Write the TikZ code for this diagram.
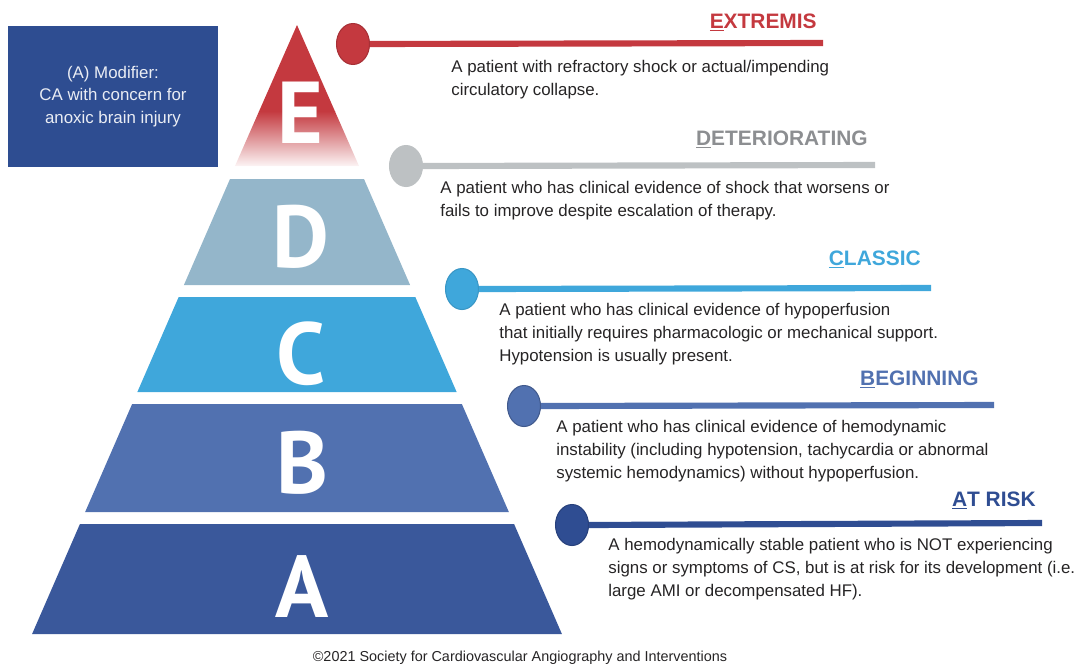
\documentclass[tikz,border=0pt]{standalone}
\usepackage{fontspec}
\setmainfont{Liberation Sans}
\newfontfamily\tierfont{PT Sans}
\usetikzlibrary{shapes.geometric,positioning}

\definecolor{extremisred}{HTML}{C4393F}
\definecolor{deterbar}{HTML}{BDC1C3}
\definecolor{detertext}{HTML}{8C8E91}
\definecolor{tierD}{HTML}{94B6CA}
\definecolor{tierC}{HTML}{3FA7DB}
\definecolor{tierB}{HTML}{5171B0}
\definecolor{tierA}{HTML}{3A589B}
\definecolor{atriskblue}{HTML}{2F4D92}
\definecolor{modblue}{HTML}{2E4D91}
\definecolor{bodygray}{HTML}{262425}

\begin{document}
\begin{tikzpicture}[
        x=0.02cm, y=-0.02cm,
        every node/.style={font=\fontsize{9.6}{13.2}\selectfont, text=bodygray},
        tier/.style={font=\tierfont\bfseries\fontsize{50}{50}\selectfont, text=white, anchor=base, inner sep=0pt},
        dot/.style={ellipse, draw, line width=0.6pt, minimum width=0.66cm, minimum height=0.82cm, inner sep=0pt},
        bar/.style={line width=3.5pt},
        tag/.style={font=\bfseries\fontsize{11.9}{12}\selectfont, anchor=base east, inner sep=0pt},
        desc/.style={align=left, anchor=north west, inner sep=0pt},
    ]
        \useasboundingbox (0,0) rectangle (1084,663);

        % --- Modifier box ---
        \node[fill=modblue, minimum width=4.2cm, minimum height=2.82cm, align=center,
              text=white!90!modblue, font=\fontsize{9.6}{12.8}\selectfont] (modifier) at (113,96.5)
              {(A) Modifier:\\CA with concern for\\anoxic brain injury};

        % --- Top of the pyramid (E), fading out towards its base ---
        \begin{scope}
            \clip (297,25) -- (359,166) -- (235,166) -- cycle;
            \fill[extremisred] (230,20) rectangle (365,112);
            \shade[top color=extremisred, bottom color=extremisred!4] (230,111) rectangle (365,167);
        \end{scope}

        % --- Lower tiers, cut from the same triangle ---
        \foreach \yt/\yb/\col in {179/285/tierD, 297/392/tierC, 404/512/tierB, 524/634/tierA}
            \fill[\col] ({297-0.435*(\yt-25)},\yt) -- ({297+0.435*(\yt-25)},\yt)
                -- ({297+0.435*(\yb-25)},\yb) -- ({297-0.435*(\yb-25)},\yb) -- cycle;

        % --- Tier letters ---
        \node[tier] (ltrE) at (300,143) {E};
        \node[tier] (ltrD) at (301,267) {D};
        \node[tier] (ltrC) at (301,384) {C};
        \node[tier] (ltrB) at (302,493) {B};
        \node[tier] (ltrA) at (302,617) {A};

        % --- Ends of the bars ---
        \coordinate (endE) at (823,43);
        \coordinate (endD) at (875,165);
        \coordinate (endC) at (931,288);
        \coordinate (endB) at (994,405);
        \coordinate (endA) at (1042,523);

        % --- Dots ---
        \node[dot, fill=extremisred, draw=extremisred!85!black] (dotE) at (353,44) {};
        \node[dot, fill=deterbar, draw=deterbar] (dotD) at (406,166) {};
        \node[dot, fill=tierC, draw=tierC!90!black] (dotC) at (462,289) {};
        \node[dot, fill=tierB, draw=tierB!80!black] (dotB) at (524,406) {};
        \node[dot, fill=atriskblue, draw=atriskblue!85!black] (dotA) at (572,525) {};

        % --- Bars ---
        \draw[bar, extremisred] (dotE.east) -- (endE);
        \draw[bar, deterbar] (dotD.east) -- (endD);
        \draw[bar, tierC] (dotC.east) -- (endC);
        \draw[bar, tierB] (dotB.east) -- (endB);
        \draw[bar, atriskblue] (dotA.east) -- (endA);

        % --- Stage names ---
        \node[tag, text=extremisred] (tagE) at (817,28) {\underline{E}XTREMIS};
        \node[tag, text=detertext] (tagD) at (868,145) {\underline{D}ETERIORATING};
        \node[tag, text=tierC] (tagC) at (921,265) {\underline{C}LASSIC};
        \node[tag, text=tierB] (tagB) at (979,385) {\underline{B}EGINNING};
        \node[tag, text=atriskblue] (tagA) at (1036,506) {\underline{A}T RISK};

        % --- Descriptions ---
        \node[desc] (descE) at (451,59.5)
            {A patient with refractory shock or actual/impending\\circulatory collapse.};
        \node[desc] (descD) at (440,180.5)
            {A patient who has clinical evidence of shock that worsens or\\fails to improve despite escalation of therapy.};
        \node[desc] (descC) at (499,302.5)
            {A patient who has clinical evidence of hypoperfusion\\that initially requires pharmacologic or mechanical support.\\Hypotension is usually present.};
        \node[desc] (descB) at (556,419.5)
            {A patient who has clinical evidence of hemodynamic\\instability (including hypotension, tachycardia or abnormal\\systemic hemodynamics) without hypoperfusion.};
        \node[desc] (descA) at (608,537.5)
            {A hemodynamically stable patient who is NOT experiencing\\signs or symptoms of CS, but is at risk for its development (i.e.\\large AMI or decompensated HF).};

        % --- Credit line ---
        \node[font=\fontsize{8.2}{9}\selectfont, anchor=base] (credit) at (520,661)
            {©2021 Society for Cardiovascular Angiography and Interventions};

    \end{tikzpicture}
\end{document}
